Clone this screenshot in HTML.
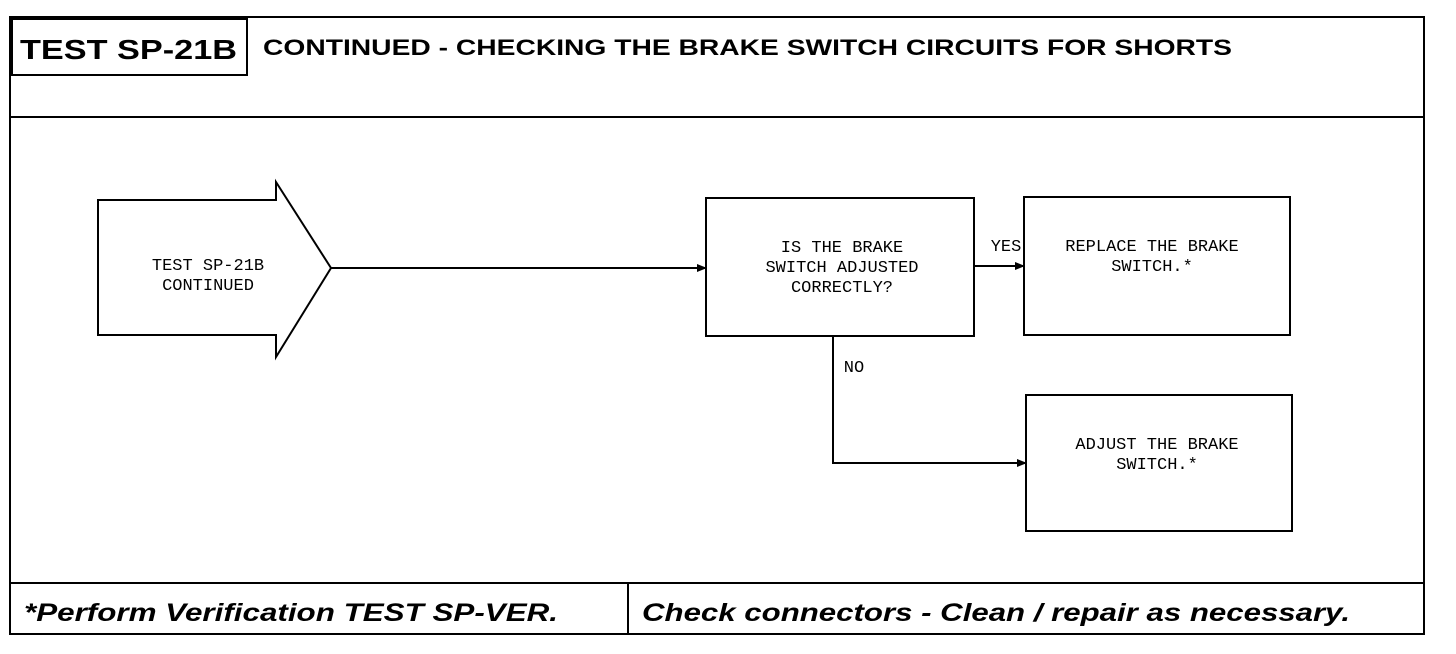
<!DOCTYPE html>
<html><head><style>body{margin:0;background:#fff}svg{display:block}</style></head>
<body>
<svg width="1456" height="654" xmlns="http://www.w3.org/2000/svg">
<defs><marker id="a" markerWidth="10" markerHeight="8" refX="9" refY="4" orient="auto" markerUnits="userSpaceOnUse"><path d="M0,0 L10,4 L0,8 z" fill="#000"/></marker></defs>
<g fill="none" stroke="#000" stroke-width="2">
<rect x="10" y="17" width="1414" height="617"/>
<rect x="12" y="19" width="235" height="56"/>
<line x1="10" y1="117" x2="1424" y2="117"/>
<line x1="10" y1="583" x2="1424" y2="583"/>
<line x1="628" y1="583" x2="628" y2="634"/>
<path d="M98,200 L276,200 L276,182 L331,268 L276,357 L276,335 L98,335 Z"/>
<line x1="331" y1="268" x2="706" y2="268" marker-end="url(#a)"/>
<rect x="706" y="198" width="268" height="138"/>
<line x1="974" y1="266" x2="1024" y2="266" marker-end="url(#a)"/>
<rect x="1024" y="197" width="266" height="138"/>
<polyline points="833,336 833,463 1026,463" marker-end="url(#a)"/>
<rect x="1026" y="395" width="266" height="136"/>
</g>
<g font-family="Liberation Sans, sans-serif" font-weight="bold" fill="#000">
<text x="20" y="59" font-size="28" textLength="217" lengthAdjust="spacingAndGlyphs">TEST SP-21B</text>
<text x="263" y="55" font-size="22" textLength="969" lengthAdjust="spacingAndGlyphs">CONTINUED - CHECKING THE BRAKE SWITCH CIRCUITS FOR SHORTS</text>
<text x="24" y="621" font-size="25" font-style="italic" textLength="534" lengthAdjust="spacingAndGlyphs">*Perform Verification TEST SP-VER.</text>
<text x="642" y="621" font-size="25" font-style="italic" textLength="708" lengthAdjust="spacingAndGlyphs">Check connectors - Clean / repair as necessary.</text>
</g>
<g font-family="Liberation Mono, monospace" font-size="17" fill="#000" text-anchor="middle">
<text x="208" y="270">TEST SP-21B</text>
<text x="208" y="290">CONTINUED</text>
<text x="842" y="252">IS THE BRAKE</text>
<text x="842" y="272">SWITCH ADJUSTED</text>
<text x="842" y="292">CORRECTLY?</text>
<text x="1152" y="251">REPLACE THE BRAKE</text>
<text x="1152" y="271">SWITCH.*</text>
<text x="1157" y="449">ADJUST THE BRAKE</text>
<text x="1157" y="469">SWITCH.*</text>
<text x="1006" y="251">YES</text>
<text x="854" y="372">NO</text>
</g>
</svg>
</body></html>
